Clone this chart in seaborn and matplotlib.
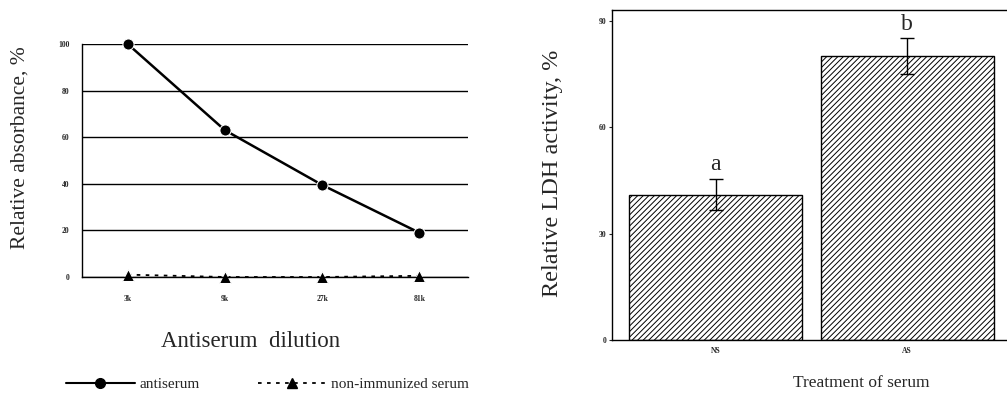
import pandas as pd
import seaborn as sns
import matplotlib.pyplot as plt
from matplotlib.lines import Line2D

# data
dilutions = ['3k', '9k', '27k', '81k']
antiserum = [100, 63, 39.5, 19]
non_immunized = [1, 0, 0, 0.5]

treatments = ['NS', 'AS']
ldh_mean = [41, 80]
ldh_err = [4.5, 5]
ldh_letters = ['a', 'b']

sns.set_theme(style='white')
plt.rcParams['font.family'] = ['Liberation Serif', 'DejaVu Serif']
plt.rcParams['hatch.linewidth'] = 0.7

df_line = pd.DataFrame({
    'dilution': dilutions * 2,
    'value': antiserum + non_immunized,
    'serum': ['antiserum'] * 4 + ['non-immunized serum'] * 4,
})
df_bar = pd.DataFrame({'treatment': treatments, 'ldh': ldh_mean})

fig = plt.figure(figsize=(10.07, 3.97), dpi=100)
ax1 = fig.add_axes([0.0814, 0.3023, 0.3833, 0.5869])
ax2 = fig.add_axes([0.6077, 0.1436, 0.3923, 0.8312])

# ---- left: absorbance vs dilution ----
sns.lineplot(data=df_line, x='dilution', y='value', hue='serum', style='serum',
             palette=['black', 'black'],
             markers={'antiserum': 'o', 'non-immunized serum': '^'},
             dashes={'antiserum': '', 'non-immunized serum': (2, 3)},
             markersize=8, sort=False, ax=ax1, legend=False, clip_on=False)
for ln, lw in zip(ax1.get_lines(), [1.8, 1.3]):
    ln.set_linewidth(lw)
ax1.set_xlim(-0.47, 3.5)
ax1.set_ylim(0, 100)
ax1.set_yticks([0, 20, 40, 60, 80, 100])
ax1.yaxis.grid(True, color='black', linewidth=1)
ax1.xaxis.grid(False)
for s in ['top', 'right']:
    ax1.spines[s].set_visible(False)
for s in ['left', 'bottom']:
    ax1.spines[s].set_color('black')
    ax1.spines[s].set_linewidth(1)
ax1.tick_params(axis='y', length=0, pad=9, labelsize=5.5)
ax1.tick_params(axis='x', length=0, pad=13, labelsize=5.5)
for lab in ax1.get_xticklabels() + ax1.get_yticklabels():
    lab.set_fontweight('bold')
ax1.set_xlabel('Antiserum  dilution', fontsize=16.5)
ax1.xaxis.set_label_coords(0.437, -0.23)
ax1.set_ylabel('Relative absorbance, %', fontsize=15.5)
ax1.yaxis.set_label_coords(-0.135, 0.555)

handles = [
    Line2D([], [], color='black', lw=1.5, marker='o', markersize=7),
    Line2D([], [], color='black', lw=1.3, ls=(0, (2, 3)), marker='^', markersize=7),
]
fig.legend(handles, ['antiserum', 'non-immunized serum'], loc='center left',
           bbox_to_anchor=(0.052, 0.032), ncol=2, frameon=False, fontsize=11,
           handlelength=4.5, handletextpad=0.3, columnspacing=3.8)

# ---- right: LDH activity ----
sns.barplot(data=df_bar, x='treatment', y='ldh', color='white', edgecolor='black',
            linewidth=1, hatch='//////', width=0.9, errorbar=None, ax=ax2)
ax2.errorbar(range(len(treatments)), ldh_mean, yerr=ldh_err, fmt='none',
             ecolor='black', elinewidth=1, capsize=5, capthick=1)
for i, (m, e, t) in enumerate(zip(ldh_mean, ldh_err, ldh_letters)):
    ax2.text(i, m + e + 1.0, t, ha='center', va='bottom', fontsize=17)
ax2.set_xlim(-0.54, 0.52 + 1)
ax2.set_ylim(0, 93)
ax2.set_yticks([0, 30, 60, 90])
ax2.spines['right'].set_visible(False)
for s in ['left', 'bottom', 'top']:
    ax2.spines[s].set_color('black')
    ax2.spines[s].set_linewidth(1)
ax2.tick_params(axis='y', length=2, width=0.8, pad=2, labelsize=5.5, left=True)
ax2.tick_params(axis='x', length=0, pad=5, labelsize=5.5)
for lab in ax2.get_xticklabels() + ax2.get_yticklabels():
    lab.set_fontweight('bold')
ax2.set_xlabel('Treatment of serum', fontsize=12.5)
ax2.xaxis.set_label_coords(0.63, -0.105)
ax2.set_ylabel('Relative LDH activity, %', fontsize=17.5)
ax2.yaxis.set_label_coords(-0.124, 0.506)

fig.savefig('out.png', dpi=100, facecolor='white')
